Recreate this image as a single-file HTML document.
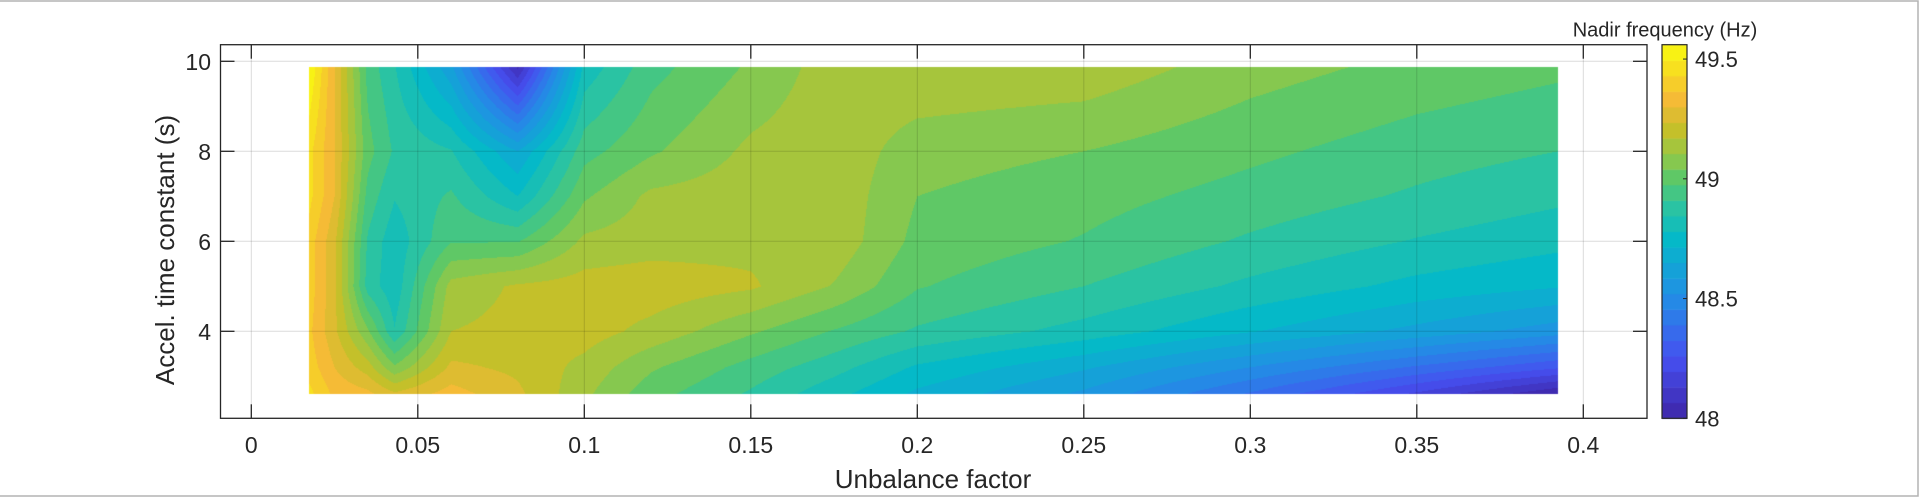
<!DOCTYPE html>
<html><head><meta charset="utf-8">
<style>
html,body{margin:0;padding:0;background:#fff;}
#wrap{position:relative;width:1927px;height:499px;overflow:hidden;font-family:"Liberation Sans",Arial,sans-serif;}
#heat{position:absolute;left:0;top:0;}
svg{position:absolute;left:0;top:0;}
</style></head>
<body>
<div id="wrap">
<canvas id="heat" width="1927" height="499"></canvas>
<svg id="ov" width="1927" height="499"></svg>
</div>
<script>
// ---- data ----
const xVals = [0.0174, 0.025, 0.035, 0.043, 0.06, 0.08, 0.1, 0.12, 0.15, 0.175, 0.2, 0.25, 0.3, 0.35, 0.3925];
const yVals = [9.88, 8, 7, 6, 5, 4, 3.2, 2.6];
const row988 = [49.56, 49.3, 48.95, 48.85, 48.6, 48.05, 48.8, 48.95, 49.05, 49.14, 49.16, 49.15, 49.07, 49.02, 48.99];
const row8   = [49.45, 49.3, 49.0, 48.9, 48.85, 48.65, 48.95, 49.03, 49.12, 49.15, 49.07, 49.04, 48.99, 48.94, 48.91];
const row7   = [49.45, 49.3, 48.95, 48.85, 48.92, 48.78, 49.03, 49.12, 49.14, 49.15, 49.04, 49.0, 48.95, 48.9, 48.86];
const row6   = [49.4, 49.25, 48.9, 48.8, 48.97, 48.97, 49.12, 49.14, 49.15, 49.15, 49.02, 48.97, 48.9, 48.84, 48.8];
const row5   = [49.4, 49.25, 48.88, 48.8, 49.13, 49.18, 49.2, 49.21, 49.18, 49.1, 48.98, 48.91, 48.83, 48.76, 48.72];
const row4   = [49.38, 49.25, 49.05, 48.85, 49.17, 49.19, 49.2, 49.15, 49.05, 48.97, 48.9, 48.82, 48.72, 48.63, 48.55];
const row32  = [49.4, 49.3, 49.2, 49.05, 49.25, 49.22, 49.15, 49.05, 48.95, 48.87, 48.77, 48.66, 48.52, 48.38, 48.27];
const row26  = [49.45, 49.35, 49.32, 49.25, 49.33, 49.25, 49.12, 49.0, 48.9, 48.8, 48.7, 48.57, 48.38, 48.18, 48.0];
const zRows = [row988, row8, row7, row6, row5, row4, row32, row26];
const xTicks = [0, 0.05, 0.1, 0.15, 0.2, 0.25, 0.3, 0.35, 0.4];
const xTickLabels = ["0", "0.05", "0.1", "0.15", "0.2", "0.25", "0.3", "0.35", "0.4"];
const yTicks = [4, 6, 8, 10];
const yTickLabels = ["4", "6", "8", "10"];
const cTicks = [48, 48.5, 49, 49.5];
const cTickLabels = ["48", "48.5", "49", "49.5"];
const cMin = 48, cMax = 49.56;

// ---- scales ----
const AX = {l:220.5, r:1647, t:44.7, b:418.3};
function xs(v){return 251.3 + v*3330;}
function ys(v){return 61.3 + (10 - v)*45;}
const CB = {l:1662, r:1687, t:44.7, b:418.3};
function cs(v){return CB.b - (v - cMin)/(cMax - cMin)*(CB.b - CB.t);}

const par = [[0,[62,38,168]],[0.16,[70,80,240]],[0.32,[35,140,230]],[0.48,[5,185,200]],[0.56,[40,195,165]],[0.64,[90,200,105]],[0.70,[145,200,72]],[0.77,[195,192,42]],[0.85,[245,185,55]],[1,[249,251,14]]];
function cmap(t){
  t=Math.max(0,Math.min(1,t));
  for(let i=1;i<par.length;i++){
    if(t<=par[i][0]){const a=par[i-1],b=par[i];const f=(t-a[0])/(b[0]-a[0]);
      return a[1].map((c,k)=>Math.round(c+(b[1][k]-c)*f));}
  }
  return par[par.length-1][1];
}
const NL = 24;
function quant(v){const t=(v-cMin)/(cMax-cMin);const q=Math.min(NL-1,Math.max(0,Math.floor(t*NL)));return (q+0.5)/NL;}

function interp(arr,v){
  for(let i=0;i<arr.length-1;i++){
    const a=arr[i],b=arr[i+1];
    if((v>=Math.min(a,b))&&(v<=Math.max(a,b))){return [i,(v-a)/(b-a)];}
  }
  return v<arr[0]===(arr[0]<arr[1]) ? [0,0] : [arr.length-2,1];
}
function zAt(x,y){
  const [i,fx]=interp(xVals,x);const [j,fy]=interp(yVals,y);
  const z00=zRows[j][i],z01=zRows[j][i+1],z10=zRows[j+1][i],z11=zRows[j+1][i+1];
  return (z00*(1-fx)+z01*fx)*(1-fy)+(z10*(1-fx)+z11*fx)*fy;
}

const cv=document.getElementById('heat');const ctx=cv.getContext('2d');
const px0=Math.round(xs(xVals[0])),px1=Math.round(xs(xVals[xVals.length-1]));
const py0=Math.round(ys(yVals[0])),py1=Math.round(ys(yVals[yVals.length-1]));
const img=ctx.createImageData(px1-px0,py1-py0);
for(let py=py0;py<py1;py++){
  const yv=10-(py+0.5-61.3)/45;
  for(let px=px0;px<px1;px++){
    const xv=(px+0.5-251.3)/3330;
    const c=cmap(quant(zAt(xv,yv)));
    const k=((py-py0)*(px1-px0)+(px-px0))*4;
    img.data[k]=c[0];img.data[k+1]=c[1];img.data[k+2]=c[2];img.data[k+3]=255;
  }
}
ctx.putImageData(img,px0,py0);
for(let q=0;q<NL;q++){
  const v0=cMin+q/NL*(cMax-cMin),v1=cMin+(q+1)/NL*(cMax-cMin);
  const c=cmap((q+0.5)/NL);
  ctx.fillStyle=`rgb(${c[0]},${c[1]},${c[2]})`;
  ctx.fillRect(CB.l,cs(v1),CB.r-CB.l,cs(v0)-cs(v1)+0.5);
}

const svg=document.getElementById('ov');const NS='http://www.w3.org/2000/svg';
function el(tag,attrs,txt){const e=document.createElementNS(NS,tag);for(const k in attrs)e.setAttribute(k,attrs[k]);if(txt!==undefined)e.textContent=txt;svg.appendChild(e);return e;}
const ink='#262626';
xTicks.forEach((v,i)=>{
  const g=el('line',{x1:xs(v),x2:xs(v),y1:AX.t,y2:AX.b,stroke:'rgba(0,0,0,0.14)','stroke-width':1});
  
  
});
yTicks.forEach((v,i)=>{
  const g=el('line',{x1:AX.l,x2:AX.r,y1:ys(v),y2:ys(v),stroke:'rgba(0,0,0,0.14)','stroke-width':1});
  
  
});
const box=el('rect',{x:AX.l,y:AX.t,width:AX.r-AX.l,height:AX.b-AX.t,fill:'none',stroke:ink,'stroke-width':1.3});


xTicks.forEach((v,i)=>{
  el('line',{x1:xs(v),x2:xs(v),y1:AX.b,y2:AX.b-14,stroke:ink,'stroke-width':1.3});
  el('line',{x1:xs(v),x2:xs(v),y1:AX.t,y2:AX.t+14,stroke:ink,'stroke-width':1.3});
  const t=el('text',{x:xs(v),y:453,'text-anchor':'middle','font-size':23,fill:ink},xTickLabels[i]);
  
  
});
yTicks.forEach((v,i)=>{
  el('line',{x1:AX.l,x2:AX.l+14,y1:ys(v),y2:ys(v),stroke:ink,'stroke-width':1.3});
  el('line',{x1:AX.r,x2:AX.r-14,y1:ys(v),y2:ys(v),stroke:ink,'stroke-width':1.3});
  const t=el('text',{x:211,y:ys(v)+8.5,'text-anchor':'end','font-size':23,fill:ink},yTickLabels[i]);
  
  
});
const cbf=el('rect',{x:CB.l,y:CB.t,width:CB.r-CB.l,height:CB.b-CB.t,fill:'none',stroke:ink,'stroke-width':1.2});


cTicks.forEach((v,i)=>{
  el('line',{x1:CB.r,x2:CB.r-4,y1:cs(v),y2:cs(v),stroke:ink,'stroke-width':1});
  const t=el('text',{x:1695,y:cs(v)+8,'font-size':22,fill:ink},cTickLabels[i]);
  
  
});
const ct=el('text',{x:1665,y:36.5,'text-anchor':'middle','font-size':20,fill:ink},'Nadir frequency (Hz)');


const xt=el('text',{x:933,y:488,'text-anchor':'middle','font-size':26,fill:ink},'Unbalance factor');


const yt=el('text',{x:0,y:0,'text-anchor':'middle','font-size':26,fill:ink,transform:'translate(174,250) rotate(-90)'},'Accel. time constant (s)');


el('polyline',{points:'0,1 1918,1 1918,496 0,496',fill:'none',stroke:'#b4b4b4','stroke-width':1.5});
</script>
</body></html>
